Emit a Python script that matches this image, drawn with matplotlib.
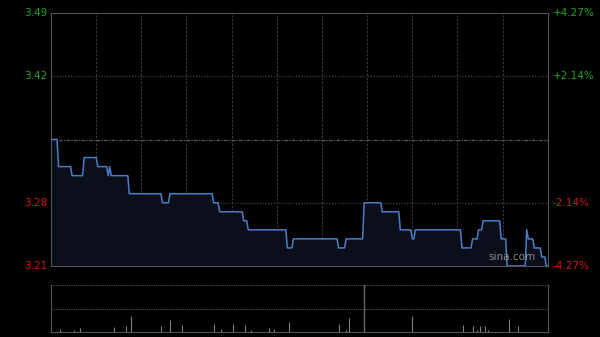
import numpy as np
import matplotlib
matplotlib.use("Agg")
import matplotlib.pyplot as plt

# intraday price (minute index where a new level starts, price)
step_minutes = [0, 5, 14, 22, 31, 38, 39, 40, 52, 74, 79, 108, 112, 128, 131, 157, 161,
                191, 196, 208, 220, 232, 240, 242, 273, 280, 284, 287, 299, 303, 316,
                317, 321, 326, 329]
step_prices = [3.35, 3.32, 3.31, 3.33, 3.32, 3.31, 3.32, 3.31, 3.29, 3.28, 3.29, 3.28, 3.27,
               3.26, 3.25, 3.23, 3.24, 3.23, 3.24, 3.28, 3.27, 3.25, 3.24, 3.25, 3.23, 3.24,
               3.25, 3.26, 3.24, 3.21, 3.25, 3.24, 3.23, 3.22, 3.21]
total_minutes = 331

# volume bars (minute, relative volume)
vol_minutes = [6, 15, 19, 42, 50, 53, 73, 79, 87, 108, 113, 121, 129, 133, 145, 148, 158,
               191, 196, 198, 240, 274, 280, 283, 285, 288, 290, 304, 310]
vol_values = [7, 4, 8, 10, 12, 35, 12, 25, 14, 18, 7, 18, 15, 5, 8, 6, 21,
              17, 4, 29, 33, 15, 13, 4, 13, 13, 4, 27, 13]

prev_close = 3.35
price_ticks = [3.21, 3.28, 3.42, 3.49]
pct_labels = ["-4.27%", "-2.14%", "+2.14%", "+4.27%"]

# hold each level until the next one starts
ends = step_minutes[1:] + [total_minutes]
prices = np.repeat(step_prices, [b - a for a, b in zip(step_minutes, ends)])
minutes = np.arange(len(prices))

fig = plt.figure(figsize=(6, 3.37), dpi=100, facecolor="black")
ax = fig.add_axes([0.085, 0.2107, 0.828, 0.7507], facecolor="black")
axv = fig.add_axes([0.085, 0.0148, 0.828, 0.1395], facecolor="black")

ax.fill_between(minutes, prices, 3.21, color="#0a0f1a", zorder=1)
ax.plot(minutes, prices, color="#4a7cc8", lw=1.1, zorder=3)
ax.set_xlim(0, total_minutes - 1)
ax.set_ylim(3.21, 3.49)

for m in range(30, 330, 30):
    ax.axvline(m, color="#3a3a3a", lw=0.8, ls=(0, (2, 1.5)), zorder=0)
for p in [3.28, 3.42]:
    ax.axhline(p, color="#4a4a4a", lw=0.8, ls=(0, (1, 1.5)), zorder=0)
ax.axhline(prev_close, color="#5a5a5a", lw=0.9, ls=(0, (3, 1, 1, 1)), zorder=0)

for s in ax.spines.values():
    s.set_color("#555555")
ax.set_xticks([])
ax.set_yticks([])
for p, lab in zip(price_ticks, pct_labels):
    c = "#1fa51f" if p > prev_close else "#d01818"
    ax.text(-0.008, p, f"{p:.2f}", transform=ax.get_yaxis_transform(), color=c,
            fontsize=7.5, ha="right", va="center")
    ax.text(1.01, p, lab, transform=ax.get_yaxis_transform(), color=c,
            fontsize=7.5, ha="left", va="center")
ax.text(0.975, 0.015, "sina.com", transform=ax.transAxes, color="#8a8a8a",
        fontsize=7.5, ha="right", va="bottom", zorder=4)

axv.vlines(vol_minutes, 0, vol_values, color="#808080", lw=0.8)
axv.set_xlim(0, total_minutes - 1)
axv.set_ylim(0, 100)
axv.axhline(100, color="#555555", lw=0.8, ls=(0, (1, 1)))
axv.axhline(50, color="#555555", lw=0.8, ls=(0, (1, 1)))
axv.axvline(208, color="#666666", lw=1)
axv.spines["top"].set_visible(False)
for s in ["left", "right", "bottom"]:
    axv.spines[s].set_color("#555555")
axv.set_xticks([])
axv.set_yticks([])

fig.savefig("out.png", dpi=100, facecolor="black")
